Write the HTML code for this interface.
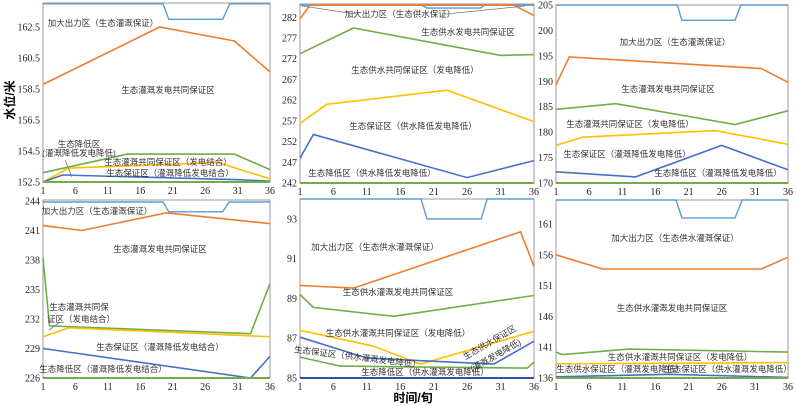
<!DOCTYPE html>
<html><head><meta charset="utf-8">
<style>
html,body{margin:0;padding:0;background:#fff;}
svg{display:block;font-family:"Liberation Serif","Noto Serif CJK SC","Noto Sans CJK SC",serif;}
.lab{font-family:"Liberation Sans","Noto Sans CJK SC",sans-serif;font-size:8.5px;fill:#333;}
.tick{font-size:10px;fill:#222;}
</style></head>
<body>
<svg id="chart" width="796" height="406" viewBox="0 0 796 406">
<text x="14" y="100" transform="rotate(-90 14 100)" text-anchor="middle" font-size="12" font-weight="bold" font-family="Liberation Sans, Noto Sans CJK SC, sans-serif">水位/米</text>
<text x="413" y="402" text-anchor="middle" font-size="12" font-weight="bold" font-family="Liberation Sans, Noto Sans CJK SC, sans-serif">时间/旬</text>
</svg>
<script>
const xTicks=[1,6,11,16,21,26,31,36];
// panel 1
const p1Top=[[1,164],[19.5,164],[20.4,163],[28.7,163],[29.8,164],[36,164]];
const p1Orange=[[1,158.8],[19,162.5],[30.5,161.6],[36,159.6]];
const p1Green=[[1,153.1],[14,154.3],[30.5,154.3],[36,153.3]];
const p1Yellow=[[1,152.5],[5,153.4],[28,153.75],[36,152.7]];
const p1Blue=[[1,152.5],[4,152.95],[31,152.65],[36,152.55]];
const p1Low=[[1,152.5],[36,152.5]];
const p1YTicks=[152.5,154.5,156.5,158.5,160.5,162.5];
// panel 2
const p2Top=[[1,284.9],[19.2,284.9],[20,284.2],[28,284.2],[28.6,284.9],[36,284.9]];
const p2Orange=[[1,281.6],[2.5,284.9],[33,284.9],[36,282.4]];
const p2Green=[[1,273.2],[9,279.4],[31,272.8],[36,273]];
const p2Yellow=[[1,256.4],[5,261],[23,264.4],[36,256.8]];
const p2Blue=[[1,248],[3,253.7],[26,243.3],[36,247.4]];
const p2Low=[[1,242],[36,242]];
const p2YTicks=[242,247,252,257,262,267,272,277,282];
// panel 3
const p3Top=[[1,205],[19.3,205],[20,202],[28,202],[28.9,205],[36,205]];
const p3Orange=[[1,189.3],[3,194.8],[32,192.5],[36,189.8]];
const p3Green=[[1,184.5],[10,185.6],[28,181.5],[36,184.2]];
const p3Yellow=[[1,177.4],[5,179],[25,180.3],[36,177.6]];
const p3Blue=[[1,172.2],[13,171.2],[26,177.4],[36,172.6]];
const p3Low=[[1,170],[36,170]];
const p3YTicks=[170,175,180,185,190,195,200,205];
// panel 4
const p4Top=[[1,243.9],[19.5,243.9],[20.4,242.9],[28.7,242.9],[29.7,243.9],[36,243.9]];
const p4Orange=[[1,241.5],[7,241],[20,242.8],[36,241.7]];
const p4Green=[[1,238.2],[2,231.3],[33,230.5],[36,235.6]];
const p4Yellow=[[1,230.2],[5,231.1],[36,230.2]];
const p4Blue=[[1,229],[33,226],[36,228.2]];
const p4Low=[[1,226],[36,226]];
const p4YTicks=[226,229,232,235,238,241,244];
// panel 5
const p5Top=[[1,94],[19.1,94],[20,93],[28.1,93],[29,94],[36,94]];
const p5Orange=[[1,89.65],[9,89.52],[34,92.35],[36,90.6]];
const p5Green=[[1,89.2],[3,88.55],[15,88.1],[36,89.15]];
const p5Yellow=[[1,87.4],[12,86.6],[19,85.7],[36,87.35]];
const p5Blue=[[1,87.05],[11,86],[30,85.7],[36,86.85]];
const p5Green2=[[1,86.05],[7,85.6],[35,85.5],[36,85.8]];
const p5Low=[[1,85],[36,85]];
const p5YTicks=[85,87,89,91,93];
// panel 6
const p6Top=[[1,164.9],[19.1,164.9],[20,162],[28,162],[29.1,164.9],[36,164.9]];
const p6Orange=[[1,156],[8,153.7],[32,153.7],[36,155.6]];
const p6Green=[[1,140.2],[2,139.8],[12,140.7],[36,140.2]];
const p6Yellow=[[1,138.3],[36,138.5]];
const p6Blue=[[1,136.2],[18,136.6],[36,136.1]];
const p6Low=[[1,136],[36,136]];
const p6YTicks=[136,141,146,151,156,161];

const C={top:'#5b9bd5',orange:'#ed7d31',green:'#70ad47',yellow:'#ffc000',blue:'#4472c4',dark:'#2f55a4'};
const NS='http://www.w3.org/2000/svg';
const svg=document.getElementById('chart');
function mk(tag,attrs,parent){const e=document.createElementNS(NS,tag);for(const k in attrs)e.setAttribute(k,attrs[k]);(parent||svg).appendChild(e);return e;}

function panel(id,box,ymin,ymax,yTicks,series,labels){
  const g=mk('g',{});
  
  
  const sx=v=>box.x0+(v-1)/35*(box.x1-box.x0);
  const sy=v=>box.y1-(v-ymin)/(ymax-ymin)*(box.y1-box.y0);
  const fr=mk('rect',{x:box.x0,y:box.y0,width:box.x1-box.x0,height:box.y1-box.y0,fill:'none',stroke:'#999','stroke-width':1},g);
  
  
  yTicks.forEach(t=>{
    const tx=mk('text',{x:box.x0-3,y:sy(t)+3.5,'text-anchor':'end',class:'tick'},g);
    tx.textContent=t;
    
    
  });
  xTicks.forEach(t=>{
    const tx=mk('text',{x:sx(t),y:box.y1+12,'text-anchor':'middle',class:'tick'},g);
    tx.textContent=t;
    
    
  });
  series.forEach(s=>{
    const pts=s.d.map(p=>sx(p[0]).toFixed(1)+','+sy(p[1]).toFixed(1)).join(' ');
    const pl=mk('polyline',{points:pts,fill:'none',stroke:s.c,'stroke-width':s.w||1.6},g);
    
    
  });
  labels.forEach(l=>{
    const tx=mk('text',{x:l[0],y:l[1],'text-anchor':'middle',class:'lab'},g);
    if(l[3])tx.setAttribute('transform','rotate('+l[3]+' '+l[0]+' '+l[1]+')');
    if(l[4])tx.setAttribute('font-size',l[4]);
    tx.textContent=l[2];
    
    
  });
  return g;
}
function std(prefix,top,o,g,y,b,low,extra){
  const s=[{d:top,c:C.top,n:prefix+'-upper-limit',w:1.4},{d:o,c:C.orange,n:prefix+'-orange-line'},{d:g,c:C.green,n:prefix+'-green-line'},{d:y,c:C.yellow,n:prefix+'-yellow-line'},{d:b,c:C.blue,n:prefix+'-blue-line'}];
  if(extra)s.push({d:extra,c:C.green,n:prefix+'-lower-green-line'});
  s.push({d:low,c:low===p5Low?C.dark:C.green,n:prefix+'-dead-level',w:2});
  return s;
}
panel('panel-1',{x0:43,x1:270,y0:3,y1:182},152.5,164.05,p1YTicks,std('p1',p1Top,p1Orange,p1Green,p1Yellow,p1Blue,p1Low),
 [[103,26,'加大出力区（生态灌溉保证）'],[168,93,'生态灌溉发电共同保证区'],[79,147,'生态降低区'],[79,156,'(灌溉降低发电降低)'],[168,165,'生态灌溉共同保证区（发电结合）'],[170,176,'生态保证区（灌溉降低发电结合）']]);
panel('panel-2',{x0:300,x1:534,y0:4,y1:183},242,285.2,p2YTicks,std('p2',p2Top,p2Orange,p2Green,p2Yellow,p2Blue,p2Low),
 [[400,17,'加大出力区（生态供水保证）'],[468,35,'生态供水发电共同保证区'],[415,73,'生态供水共同保证区（发电降低）'],[413,129,'生态保证区（供水降低发电降低）'],[372,176,'生态降低区（供水降低发电降低）']]);
panel('panel-3',{x0:556,x1:788,y0:5,y1:183},170,205,p3YTicks,std('p3',p3Top,p3Orange,p3Green,p3Yellow,p3Blue,p3Low),
 [[675,45,'加大出力区（生态灌溉保证）'],[668,92,'生态灌溉发电共同保证区'],[630,127,'生态灌溉共同保证区（发电降低）'],[627,157,'生态保证区（灌溉降低发电降低）'],[718,176,'生态降低区（灌溉降低发电降低）']]);
panel('panel-4',{x0:43,x1:270,y0:200,y1:378},226,244.1,p4YTicks,std('p4',p4Top,p4Orange,p4Green,p4Yellow,p4Blue,p4Low),
 [[97,214,'加大出力区（生态灌溉保证）'],[160,252,'生态灌溉发电共同保证区'],[79,310,'生态灌溉共同保'],[81,322,'证区（发电结合）'],[160,350,'生态保证区（灌溉降低发电结合）'],[103,372,'生态降低区（灌溉降低发电结合）']]);
panel('panel-5',{x0:300,x1:534,y0:199,y1:378},85,94,p5YTicks,std('p5',p5Top,p5Orange,p5Green,p5Yellow,p5Blue,p5Low,p5Green2),
 [[375,250,'加大出力区（生态供水灌溉保证）'],[398,295,'生态供水灌溉发电共同保证区'],[398,336,'生态供水灌溉共同保证区（发电降低）'],[357,360,'生态保证区（供水灌溉发电降低）',7],[425,375,'生态降低区（供水灌溉发电降低）'],[491,345,'生态供水保证区',-30],[497,358,'(灌溉发电降低)',-30]]);
panel('panel-6',{x0:556,x1:788,y0:200,y1:378},136,164.9,p6YTicks,std('p6',p6Top,p6Orange,p6Green,p6Yellow,p6Blue,p6Low),
 [[675,241,'加大出力区（生态供水灌溉保证）'],[672,311,'生态供水灌溉发电共同保证区'],[680,360,'生态供水灌溉共同保证区（发电降低）'],[620,372,'生态供水保证区（灌溉发电降低）',0,'7px'],[728,372,'生态保证区（供水灌溉发电降低）',0,'7px']]);
// annotation arrows
[[65,160,72,177],[60,322,49,330],[356,14,302,6],[446,14,525,6]].forEach(a=>{
  const l=mk('line',{x1:a[0],y1:a[1],x2:a[2],y2:a[3],stroke:'#777','stroke-width':0.8});
  
  
});
</script>
</body></html>
